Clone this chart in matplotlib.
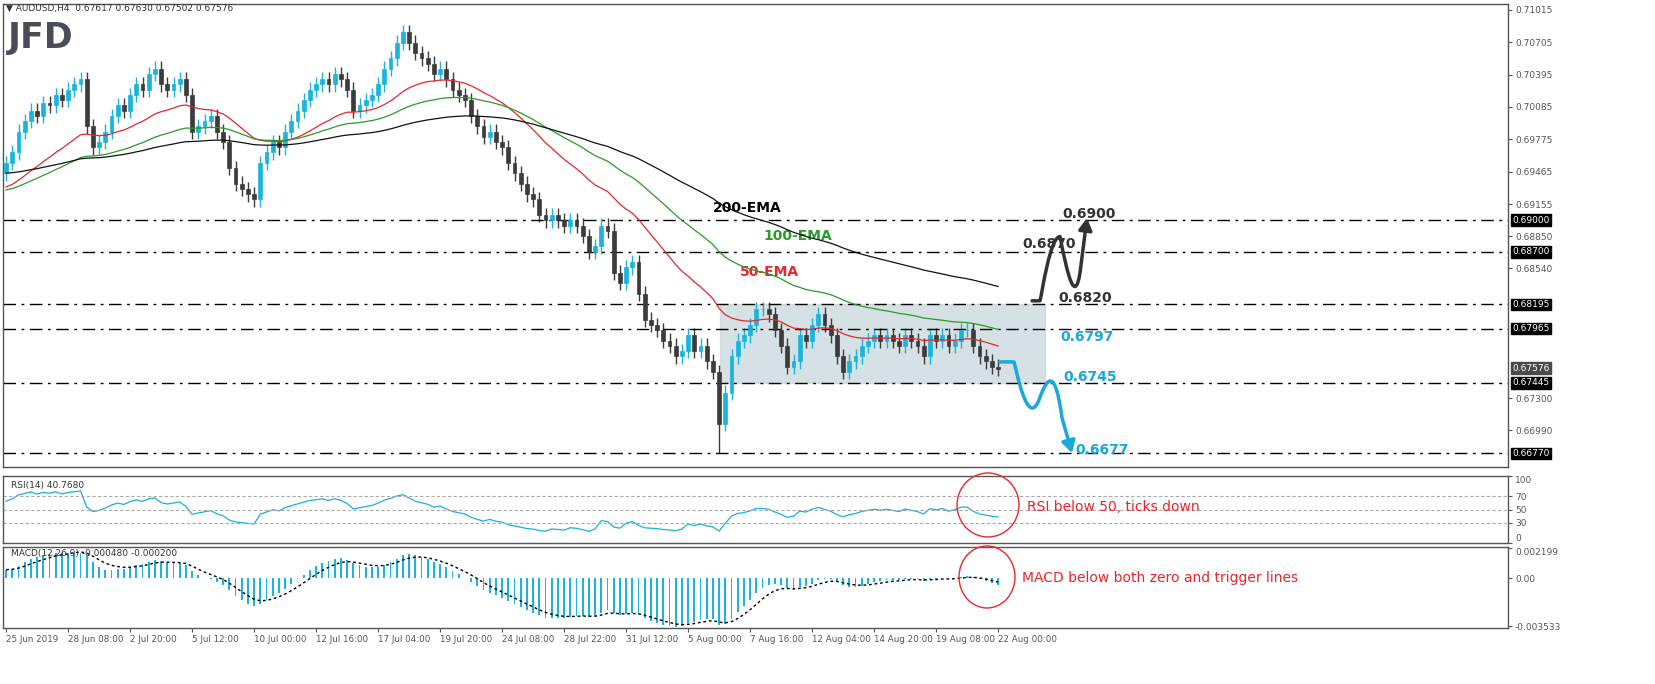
import numpy as np
import matplotlib
matplotlib.use("Agg")
import matplotlib.pyplot as plt
from matplotlib.patches import Ellipse, Rectangle, FancyArrowPatch
from matplotlib.path import Path

# ---- data (8-hour closes) ----
closes = [0.6955, 0.6965, 0.6985, 0.6995, 0.7005, 0.7000, 0.7012, 0.7010, 0.7020, 0.7015, 0.7025, 0.7030, 0.7035,
          0.6990, 0.6970, 0.6975, 0.6985,
          0.7000, 0.7010, 0.7005, 0.7020, 0.7030, 0.7025, 0.7040, 0.7045, 0.7030,
          0.7025, 0.7030, 0.7035, 0.7020, 0.6985,
          0.6990, 0.6995, 0.7000, 0.6985, 0.6975, 0.6950, 0.6935,
          0.6930, 0.6925, 0.6920, 0.6955,
          0.6965, 0.6975, 0.6970, 0.6985, 0.6995, 0.7005, 0.7015, 0.7025, 0.7030,
          0.7035, 0.7030, 0.7040, 0.7035, 0.7025, 0.7005, 0.7010, 0.7015,
          0.7020, 0.7030, 0.7045, 0.7055, 0.7070, 0.7080, 0.7070, 0.7060,
          0.7055, 0.7050, 0.7040, 0.7045, 0.7035, 0.7025, 0.7020, 0.7015,
          0.7000, 0.6990, 0.6980, 0.6985, 0.6975, 0.6970, 0.6955, 0.6945,
          0.6935, 0.6925, 0.6920, 0.6905, 0.6900, 0.6905, 0.6900, 0.6895,
          0.6900, 0.6895, 0.6885, 0.6870, 0.6875, 0.6895, 0.6890, 0.6850,
          0.6840, 0.6855, 0.6860, 0.6830, 0.6805, 0.6800, 0.6795, 0.6785,
          0.6780, 0.6770, 0.6775, 0.6790, 0.6775, 0.6780, 0.6765, 0.6755,
          0.6705, 0.6735, 0.6770, 0.6785, 0.6790, 0.6800, 0.6815, 0.6815,
          0.6810, 0.6795, 0.6780, 0.6760, 0.6765, 0.6790, 0.6785, 0.6800,
          0.6810, 0.6800, 0.6790, 0.6770, 0.6755, 0.6765, 0.6770, 0.6780,
          0.6785, 0.6790, 0.6785, 0.6790, 0.6785, 0.6780, 0.6790, 0.6785,
          0.6780, 0.6770, 0.6790, 0.6785, 0.6790, 0.6780, 0.6785, 0.6795,
          0.6795, 0.6780, 0.6770, 0.6765, 0.6760, 0.67576]
first_open = 0.6945
spike_idx = [115]
spike_low = [0.6677]
ema_seeds = {50: 0.6930, 100: 0.6928, 200: 0.6945}
date_labels = ["25 Jun 2019", "28 Jun 08:00", "2 Jul 20:00", "5 Jul 12:00", "10 Jul 00:00",
               "12 Jul 16:00", "17 Jul 04:00", "19 Jul 20:00", "24 Jul 08:00", "28 Jul 22:00",
               "31 Jul 12:00", "5 Aug 00:00", "7 Aug 16:00", "12 Aug 04:00", "14 Aug 20:00",
               "19 Aug 08:00", "22 Aug 00:00"]
price_ticks = [0.71015, 0.70705, 0.70395, 0.70085, 0.69775, 0.69465, 0.69155, 0.68850,
               0.68540, 0.67300, 0.66990]
levels = [0.6900, 0.6870, 0.68195, 0.67965, 0.67445, 0.6677]

W, H = 1655, 684
fig = plt.figure(figsize=(W / 100, H / 100), dpi=100)
fig.patch.set_facecolor("white")

def fx(px): return px / W
def fy(py): return 1 - py / H

L, R = 3, 1508
ax = fig.add_axes([fx(L), fy(467), fx(R - L), fy(4) - fy(467)])
ax2 = fig.add_axes([fx(L), fy(543), fx(R - L), fy(476) - fy(543)])
ax3 = fig.add_axes([fx(L), fy(628), fx(R - L), fy(547) - fy(628)])

n = len(closes)
xs = np.arange(n)
XMAX = (R - L) / 6.2 - 0.5
def px2x(px): return (px - L) / 6.2 - 0.5

c = np.array(closes)
o = np.concatenate([[first_open], c[:-1]])
hi = np.maximum(o, c) + 0.0007
lo = np.minimum(o, c) - 0.0007
for i, v in zip(spike_idx, spike_low):
    lo[i] = v

up_col, dn_col = "#1ab4dc", "#3c3c3c"
for i in range(n):
    col = up_col if c[i] >= o[i] else dn_col
    ax.vlines(xs[i], lo[i], hi[i], color=col, lw=1)
    b0, b1 = min(o[i], c[i]), max(o[i], c[i])
    ax.add_patch(Rectangle((xs[i] - 0.3, b0), 0.6, max(b1 - b0, 0.00005),
                           facecolor=col, edgecolor=col, lw=0.5, zorder=3))

def ema(vals, span, seed):
    a = 2 / (span + 1)
    out, e = [], seed
    for v in vals:
        e = e + a * (v - e)
        out.append(e)
    return np.array(out)

ax.plot(xs, ema(c, 25, ema_seeds[50]), color="#e8262b", lw=0.9, zorder=4)
ax.plot(xs, ema(c, 50, ema_seeds[100]), color="#2a9a2a", lw=0.9, zorder=4)
ax.plot(xs, ema(c, 100, ema_seeds[200]), color="#111111", lw=0.9, zorder=4)

for lv in levels:
    ax.axhline(lv, color="black", lw=1, ls=(0, (9, 4, 2, 4)), zorder=2)

ax.add_patch(Rectangle((px2x(720), 0.67445), px2x(1045) - px2x(720), 0.68195 - 0.67445,
                       facecolor="#b9cdd3", alpha=0.6, edgecolor="#cccccc", zorder=1))

ax.set_xlim(-0.5, XMAX)
ax.set_ylim(0.66640, 0.71070)
ax.yaxis.tick_right()
ax.set_yticks(price_ticks)
ax.set_yticklabels([f"{t:.5f}" for t in price_ticks], fontsize=6.5, color="#333333")
ax.set_xticks([])

bbox_k = dict(boxstyle="square,pad=0.15", fc="black", ec="black")
for lv in levels:
    ax.text(1.003, lv, f"{lv:.5f}", transform=ax.get_yaxis_transform(), fontsize=6.5,
            color="white", va="center", ha="left", bbox=bbox_k, zorder=10, clip_on=False)
ax.text(1.003, closes[-1] + 0.0001, f"{closes[-1]:.5f}", transform=ax.get_yaxis_transform(), fontsize=6.5,
        color="white", va="center", ha="left", zorder=10, clip_on=False,
        bbox=dict(boxstyle="square,pad=0.15", fc="#4a4a4a", ec="#4a4a4a"))

ax.text(px2x(713), 0.6912, "200-EMA", fontsize=10, fontweight="bold", color="black", va="center")
ax.text(px2x(763), 0.6885, "100-EMA", fontsize=10, fontweight="bold", color="#2a9a2a", va="center")
ax.text(px2x(740), 0.6851, "50-EMA", fontsize=10, fontweight="bold", color="#e8262b", va="center")
dk, cy = "#333333", "#1aa7d9"
ax.text(px2x(1062), 0.6906, "0.6900", fontsize=10, fontweight="bold", color=dk, va="center")
ax.text(px2x(1022), 0.6877, "0.6870", fontsize=10, fontweight="bold", color=dk, va="center")
ax.text(px2x(1058), 0.6826, "0.6820", fontsize=10, fontweight="bold", color=dk, va="center")
ax.text(px2x(1060), 0.6788, "0.6797", fontsize=10, fontweight="bold", color=cy, va="center")
ax.text(px2x(1063), 0.6750, "0.6745", fontsize=10, fontweight="bold", color=cy, va="center")
ax.text(px2x(1075), 0.6680, "0.6677", fontsize=10, fontweight="bold", color=cy, va="center")

def p2y(py): return 0.71015 - (py - 6) * 0.0000991
codes = [Path.MOVETO, Path.LINETO, Path.LINETO, Path.CURVE4, Path.CURVE4, Path.CURVE4,
         Path.CURVE4, Path.CURVE4, Path.CURVE4, Path.LINETO]
vb = [(1032, 287), (1038, 287), (1040, 287), (1042, 280),
      (1050, 225), (1060, 225), (1068, 265), (1075, 290), (1080, 260), (1087, 207)]
ax.add_patch(FancyArrowPatch(path=Path([(px2x(a), p2y(b)) for a, b in vb], codes),
                             arrowstyle="-|>,head_length=7,head_width=4", color="#333333", lw=2.5,
                             mutation_scale=1, zorder=6))
vc = [(1000, 346), (1012, 346), (1014, 346), (1016, 352),
      (1028, 415), (1040, 380), (1047, 362), (1055, 350), (1062, 400), (1072, 434)]
ax.add_patch(FancyArrowPatch(path=Path([(px2x(a), p2y(b)) for a, b in vc], codes),
                             arrowstyle="-|>,head_length=7,head_width=4", color=cy, lw=2.5,
                             mutation_scale=1, zorder=6))

# ---- RSI ----
def rsi(vals, period):
    d = np.diff(vals, prepend=vals[0])
    g, l = np.where(d > 0, d, 0), np.where(d < 0, -d, 0)
    ag, al = 0.0005, 0.0003
    out = []
    for gi, li in zip(g, l):
        ag = (ag * (period - 1) + gi) / period
        al = (al * (period - 1) + li) / period
        out.append(100 - 100 / (1 + ag / al) if al > 0 else 100)
    return np.array(out)
r = rsi(c, 14)
ax2.plot(xs, r, color="#1ab0e0", lw=0.9)
for lv in (30, 50, 70):
    ax2.axhline(lv, color="#aaaaaa", lw=0.8, ls=(0, (3, 2)))
ax2.set_xlim(-0.5, XMAX); ax2.set_ylim(0, 100)
ax2.yaxis.tick_right(); ax2.set_yticks([0, 30, 50, 70, 100])
ax2.set_yticklabels(["0", "30", "50", "70", "100"], fontsize=6.5, color="#333333")
ax2.get_yticklabels()[0].set_verticalalignment("bottom")
ax2.get_yticklabels()[-1].set_verticalalignment("top")
ax2.set_xticks([])
ax2.text(0.005, 0.92, "RSI(14) 40.7680", transform=ax2.transAxes, fontsize=6.5, color="#333333", va="top")

# ---- MACD ----
macd = ema(c, 10, c[0] - 0.0006) - ema(c, 20, c[0] - 0.0012)
sig = ema(macd, 5, macd[0])
ax3.bar(xs, np.clip(macd, -0.003533, 0.00175), width=0.3, color="#1ab4dc")
ax3.plot(xs, sig, color="black", lw=1, ls=(0, (2, 2)))
ax3.set_xlim(-0.5, XMAX); ax3.set_ylim(-0.003533, 0.002199)
ax3.yaxis.tick_right(); ax3.set_yticks([-0.0034, 0.0, 0.0021])
ax3.set_yticklabels(["-0.003533", "0.00", "0.002199"], fontsize=6.5, color="#333333")
ax3.get_yticklabels()[-1].set_verticalalignment("top")
ax3.set_xticks(np.arange(0, 10 * len(date_labels), 10))
ax3.set_xticklabels(date_labels, fontsize=6.3, color="#333333", ha="left")
ax3.text(0.005, 0.97, "MACD(12,26,9) -0.000480 -0.000200", transform=ax3.transAxes,
         fontsize=6.5, color="#333333", va="top")

for a in (ax, ax2, ax3):
    for s in a.spines.values():
        s.set_color("#555555"); s.set_linewidth(1)
    a.tick_params(axis="y", length=3, pad=2, colors="#555555")
    a.tick_params(axis="x", length=3, pad=2, colors="#555555")

fig.text(fx(6), fy(8), "▼ AUDUSD,H4  0.67617 0.67630 0.67502 0.67576", fontsize=6.5, color="#333333", va="center")
fig.text(fx(8), fy(38), "JFD", fontsize=25, fontweight="bold", color="#4a4d55", va="center")

fig.add_artist(Ellipse((fx(988), fy(505)), fx(62), 64 / H, transform=fig.transFigure,
                       fill=False, ec="#e8262b", lw=1))
fig.add_artist(Ellipse((fx(987), fy(577)), fx(56), 62 / H, transform=fig.transFigure,
                       fill=False, ec="#e8262b", lw=1))
fig.text(fx(1027), fy(507), "RSI below 50, ticks down", fontsize=10, color="#e8262b", va="center")
fig.text(fx(1022), fy(578), "MACD below both zero and trigger lines", fontsize=10, color="#e8262b", va="center")

fig.savefig("out.png", dpi=100)
